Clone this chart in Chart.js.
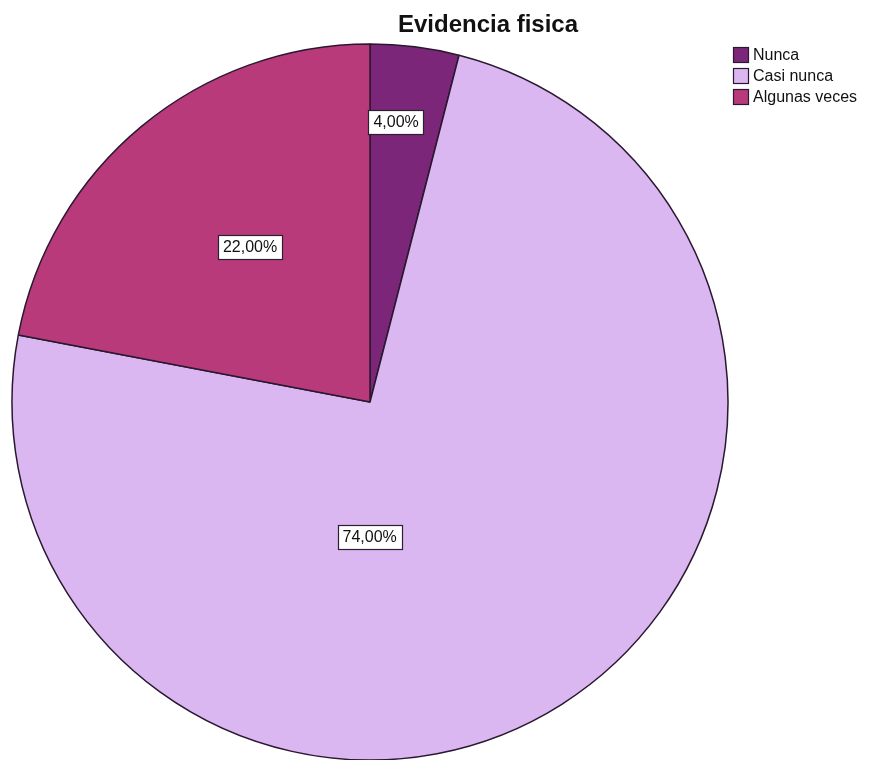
<!DOCTYPE html>
<html>
<head>
<meta charset="utf-8">
<title>Evidencia fisica</title>
<script src="https://cdn.jsdelivr.net/npm/chart.js@4/dist/chart.umd.min.js"></script>
<style>
  html, body { margin: 0; padding: 0; background: #ffffff; }
  #wrap { width: 869px; height: 760px; position: relative; }
</style>
</head>
<body>
<div id="wrap"><canvas id="pie" width="869" height="760"></canvas></div>
<script>
// Categories and their percentages
const categories = ['Nunca', 'Casi nunca', 'Algunas veces'];
const percentages = [4, 74, 22];
const sliceColors = ['#7c2679', '#dab7f0', '#b93a7b'];
const chartTitle = 'Evidencia fisica';

const FONT = '"Liberation Sans", Arial, Helvetica, sans-serif';
const INK = '#111111';
const EDGE = '#2a1830';

// Label anchor for each slice, as a fraction of the radius from the centre
const labelAnchors = [
  { dx: 0.073, dy: -0.782 },
  { dx: -0.001, dy: 0.377 },
  { dx: -0.335, dy: -0.433 }
];

function formatPct(v, total) {
  return (v / total * 100).toFixed(2).replace('.', ',') + '%';
}

// Boxed percentage labels inside the slices
const boxLabels = {
  id: 'boxLabels',
  afterDatasetsDraw(chart) {
    const ctx = chart.ctx;
    const meta = chart.getDatasetMeta(0);
    const data = chart.data.datasets[0].data;
    const total = data.reduce((a, b) => a + b, 0);
    ctx.save();
    ctx.font = '16px ' + FONT;
    ctx.textAlign = 'center';
    ctx.textBaseline = 'middle';
    meta.data.forEach((arc, i) => {
      const r = arc.outerRadius;
      const a = labelAnchors[i];
      const cx = arc.x + a.dx * r;
      const cy = arc.y + a.dy * r;
      const txt = formatPct(data[i], total);
      const w = ctx.measureText(txt).width + 10;
      const h = 24;
      const x0 = Math.round(cx - w / 2) + 0.5;
      const y0 = Math.round(cy - h / 2) + 0.5;
      ctx.fillStyle = '#ffffff';
      ctx.fillRect(x0, y0, Math.round(w), h);
      ctx.strokeStyle = '#2b2030';
      ctx.lineWidth = 1.2;
      ctx.strokeRect(x0, y0, Math.round(w), h);
      ctx.fillStyle = INK;
      ctx.fillText(txt, cx, cy + 1);
    });
    ctx.restore();
  }
};

// Title and legend block
const frame = {
  id: 'frame',
  afterDraw(chart) {
    const ctx = chart.ctx;
    ctx.save();
    ctx.fillStyle = INK;
    ctx.font = 'bold 24px ' + FONT;
    ctx.textAlign = 'center';
    ctx.textBaseline = 'alphabetic';
    ctx.fillText(chartTitle, 488, 32);

    ctx.font = '16px ' + FONT;
    ctx.textAlign = 'left';
    ctx.textBaseline = 'middle';
    const colors = chart.data.datasets[0].backgroundColor;
    chart.data.labels.forEach((lab, i) => {
      const y = 47 + i * 21;
      ctx.fillStyle = colors[i];
      ctx.fillRect(733.5, y + 0.5, 15, 15);
      ctx.strokeStyle = EDGE;
      ctx.lineWidth = 1.2;
      ctx.strokeRect(733.5, y + 0.5, 15, 15);
      ctx.fillStyle = INK;
      ctx.fillText(lab, 753, y + 8.5);
    });
    ctx.restore();
  }
};

new Chart(document.getElementById('pie'), {
  type: 'pie',
  data: {
    labels: categories,
    datasets: [{
      data: percentages,
      backgroundColor: sliceColors,
      borderColor: EDGE,
      borderWidth: 1.5,
      hoverOffset: 0
    }]
  },
  options: {
    responsive: false,
    animation: false,
    radius: 358,
    layout: { padding: { left: 12, right: 141, top: 44, bottom: 0 } },
    plugins: {
      legend: { display: false },
      title: { display: false },
      tooltip: { enabled: false }
    }
  },
  plugins: [boxLabels, frame]
});
</script>
</body>
</html>
